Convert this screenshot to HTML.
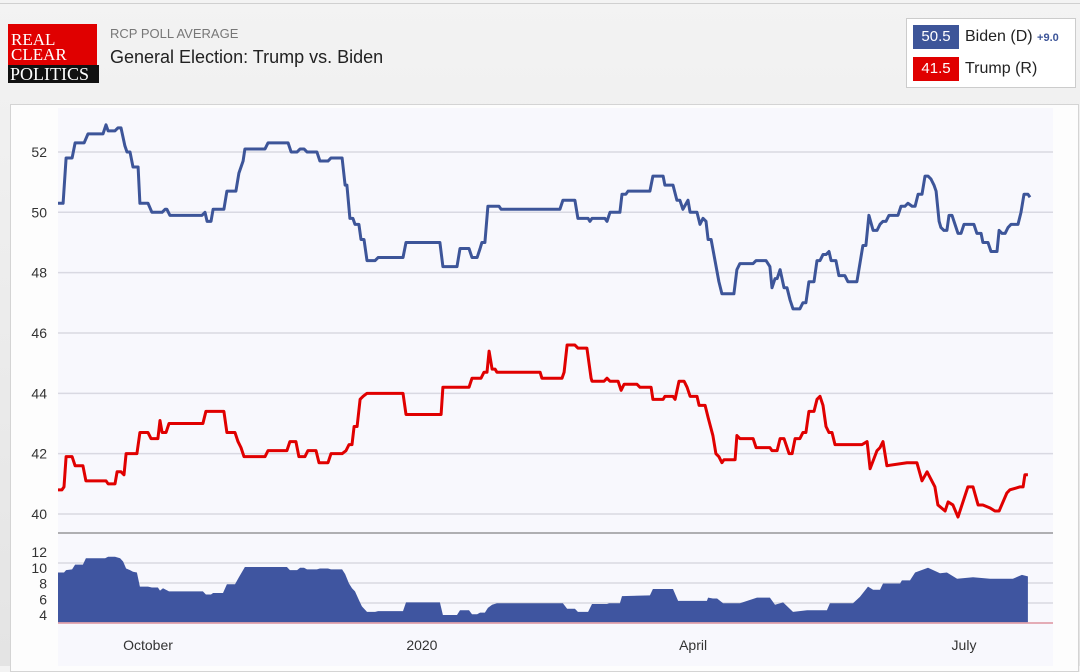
<!DOCTYPE html>
<html><head><meta charset="utf-8">
<style>
body{margin:0;width:1080px;height:666px;overflow:hidden;background:linear-gradient(#f3f3f3,#e4e4e4);font-family:"Liberation Sans",sans-serif;position:relative}
#topline{position:absolute;left:0;top:3px;width:1080px;height:1px;background:#d0d0d0}
#logo{position:absolute;left:8px;top:24px;width:89px;height:59px;background:#e00000;font-family:"Liberation Serif",serif;color:#fff;font-size:17px;line-height:15px}
#logo .b{position:absolute;left:0;bottom:0;width:89px;height:18px;background:#111;font-size:18px;line-height:18px}
#sub{position:absolute;left:110px;top:26px;font-size:13px;color:#777}
#title{position:absolute;left:110px;top:47px;font-size:18px;color:#222}
#legend{position:absolute;left:906px;top:18px;width:168px;height:68px;background:#fff;border:1px solid #ccc}
.lr{position:absolute;left:6px;font-size:16px;color:#222;white-space:nowrap}
.bx{display:inline-block;width:46px;height:24px;line-height:24px;color:#fff;text-align:center;font-size:15px;margin-right:6px}
#panel{position:absolute;left:10px;top:104px;width:1067px;height:566px;background:#fdfdfd;border:1px solid #d4d4d4}
svg{position:absolute;left:0;top:0}
</style></head><body>
<div id="topline"></div>
<div id="logo"><div style="padding:8px 0 0 3px">REAL<br>CLEAR</div><div class="b" style="padding-left:2px">POLITICS</div></div>
<div id="sub">RCP POLL AVERAGE</div>
<div id="title">General Election: Trump vs. Biden</div>
<div id="legend">
 <div class="lr" style="top:6px"><span class="bx" style="background:#3d5599">50.5</span>Biden (D) <span style="font-size:11px;color:#3d5599;font-weight:bold">+9.0</span></div>
 <div class="lr" style="top:38px"><span class="bx" style="background:#e00000">41.5</span>Trump (R)</div>
</div>
<div id="panel"></div>
<svg id="chart" width="1080" height="666"></svg>
<script>
const bidenDays=[0,1.7,2.7,4.7,5.7,8.7,10,15,16,16.7,19,20,21,22.3,23,24,25,26.7,27.3,30,31.3,34.7,35.7,36.3,37.3,48,49,49.7,51,51.7,55.3,56.3,59.3,60.3,61.7,62.3,69,70,76.7,77.7,79.7,80.7,82,83,86.3,87.3,90,91,94.7,95.7,96.3,97.3,98.3,99,100.3,101,102,103,105.7,106.7,115,116,127.3,128.3,133,134,137,138,139.7,140.7,141.3,142.3,143.3,147,147.7,167.3,168.3,172.3,173.3,176.7,177.3,178,182.3,183,184,187.3,188,189.3,190,197.3,198.3,201.7,202.3,205,206.3,207.3,208.3,210,210.7,213,214,215,216,216.7,217.7,219,220.3,221.3,225.3,226.3,227.3,231.7,232.7,236,237.3,238,239,239.7,240.7,242,243,244,245,247.3,248.3,249.3,250.3,252,253,254,255,256,257,257.7,259.3,260.3,262.3,263.3,266.3,267.3,268.3,269.3,270.3,271.7,273,274,275,276,277,280,281,282.3,283.3,284.7,285.7,286.7,288,289,290,291,292,292.7,293.7,294.3,295.3,296.3,297,298,299,300,301,302,305.3,306.3,307.7,308.3,310,311,313,313.7,314.7,315.7,316.7,317.7,320,321,322,323.3,324];
const bidenVals=[50.3,50.3,51.8,51.8,52.3,52.3,52.6,52.6,52.9,52.7,52.7,52.8,52.8,52.2,52.0,52.0,51.5,51.5,50.3,50.3,50.0,50.0,50.1,50.1,49.9,49.9,50.0,49.7,49.7,50.1,50.1,50.7,50.7,51.3,51.7,52.1,52.1,52.3,52.3,52.0,52.0,52.1,52.1,52.0,52.0,51.7,51.7,51.8,51.8,50.9,50.9,49.8,49.8,49.6,49.6,49.1,49.1,48.4,48.4,48.5,48.5,49.0,49.0,48.2,48.2,48.8,48.8,48.5,48.5,48.8,49.0,49.0,50.2,50.2,50.1,50.1,50.4,50.4,49.8,49.8,49.7,49.8,49.8,49.7,50.0,50.0,50.6,50.6,50.7,50.7,51.2,51.2,50.9,50.9,50.4,50.4,50.1,50.4,50.0,50.0,49.6,49.8,49.7,49.1,49.1,48.4,47.7,47.3,47.3,48.1,48.3,48.3,48.4,48.4,48.2,47.5,47.8,47.8,48.1,47.5,47.5,47.1,46.8,46.8,47.0,47.0,47.7,47.7,48.4,48.4,48.6,48.6,48.7,48.4,48.4,47.9,47.9,47.7,47.7,48.3,48.9,48.9,49.9,49.4,49.4,49.6,49.7,49.7,49.9,49.9,50.2,50.2,50.3,50.2,50.2,50.6,50.6,51.2,51.2,51.1,50.9,50.7,49.7,49.5,49.4,49.4,49.9,49.9,49.6,49.3,49.3,49.6,49.6,49.3,49.3,49.0,49.0,48.7,48.7,49.4,49.3,49.3,49.5,49.6,49.6,50.0,50.6,50.6,50.5];
const trumpDays=[0,1.3,2,2.7,4.7,5.7,8.3,9.3,16,16.7,19,19.7,21,22,22.7,26.3,27.3,30,31,33.3,34,34.7,36,37,48.3,49.3,55.3,56.3,59,60,61,62,69,70,76.3,77.3,79.3,80.3,82.3,83.3,86,87,90,91,94.7,96,97,98,98.7,99.7,100.7,101.7,103,115,116,127.7,128.3,137,138,141,142,143,143.7,144.7,145.7,146.3,160.7,161.3,168,168.7,169.7,172.3,173.3,176.3,177.7,178,182,183,184,186.7,187.7,188.7,193,194,197.7,198.3,201.7,202.3,205,205.7,207,208.7,209.7,210.7,213,213.7,215.7,216.7,218.3,219.3,220.3,221.3,222,225.7,226.3,227.3,231.7,232.7,237.3,238,239.7,240.7,242,243.7,244.7,245.7,247.3,248.3,249.3,250.3,252,253,254,255,256,257,258,259,267.3,268,269.7,270.7,273,274,275,276.3,283,286.3,288,289.7,292.3,293.3,295.7,296.7,298.3,300,303.3,305,306.7,308.3,310.7,312.3,313.7,316.3,317.3,320.7,321.7,322.3,323.3];
const trumpVals=[40.8,40.8,40.9,41.9,41.9,41.6,41.6,41.1,41.1,41.0,41.0,41.4,41.4,41.3,42.0,42.0,42.7,42.7,42.5,42.5,43.1,42.7,42.7,43.0,43.0,43.4,43.4,42.7,42.7,42.4,42.2,41.9,41.9,42.1,42.1,42.4,42.4,41.9,41.9,42.1,42.1,41.7,41.7,42.0,42.0,42.1,42.3,42.3,42.9,42.9,43.8,43.9,44.0,44.0,43.3,43.3,44.2,44.2,44.5,44.5,44.7,44.7,45.4,44.8,44.8,44.7,44.7,44.5,44.5,44.7,45.6,45.6,45.5,45.5,44.5,44.4,44.4,44.5,44.4,44.4,44.1,44.3,44.3,44.2,44.2,43.8,43.8,43.9,43.9,43.8,44.4,44.4,44.2,43.9,43.9,43.6,43.6,43.2,42.6,42.0,41.9,41.7,41.8,41.8,42.6,42.5,42.5,42.2,42.2,42.1,42.1,42.5,42.5,42.0,42.0,42.5,42.5,42.7,42.7,43.4,43.4,43.8,43.9,43.6,42.9,42.7,42.7,42.3,42.3,42.3,42.4,41.5,42.1,42.2,42.4,41.6,41.7,41.7,41.1,41.4,40.9,40.3,40.1,40.4,40.3,39.9,40.9,40.9,40.3,40.3,40.2,40.1,40.1,40.7,40.8,40.9,40.9,41.3,41.3,41.5];
const spreadDays=[0,2,2.7,4.7,5.7,8.3,9.3,15.7,16.7,19,20.7,21.7,22.7,24,25,26.3,27.3,30,31.3,33.3,34,35,37,48.3,49.3,51,51.7,55,56.3,59,60.3,62.3,76.3,77.3,79.7,80.7,82,83,86.3,87.3,90,91,94.7,95.7,97,98,99,100.3,101.3,103,105.7,106.7,115,116,127.3,128.3,133,134,137,138,139.7,140.7,142.3,143.3,144.7,146.3,168.3,169.7,172.3,173.3,176.7,178,183,183.7,187.3,188,197.3,198.3,205,206.7,216.3,216.7,218.3,219.7,221.7,227.3,233,237.3,239,241.7,245,249.7,256.3,257.3,265,267.3,270,271.7,274,275,280.7,281.3,284,285.7,290,294,296.3,299.7,305,310.7,318.3,321.3,323.3];
const spreadVals=[9.4,9.4,9.7,9.8,10.4,10.4,11.2,11.2,11.4,11.4,11.2,10.8,9.9,9.7,9.5,9.4,7.6,7.6,7.5,7.5,7.1,7.4,7.0,7.0,6.6,6.6,6.8,6.8,7.9,7.9,8.8,10.1,10.1,9.7,9.7,10.0,10.0,9.8,9.8,9.9,9.9,9.8,9.8,9.2,8.0,7.4,7.0,5.9,5.1,4.4,4.4,4.5,4.5,5.6,5.6,4.0,4.0,4.6,4.6,4.1,4.1,4.3,4.3,4.9,5.3,5.5,5.5,4.8,4.8,4.4,4.4,5.4,5.4,5.5,5.5,6.4,6.5,7.3,7.3,5.8,5.8,6.2,6.1,6.1,5.5,5.5,6.2,6.2,5.3,5.6,4.4,4.6,4.6,5.5,5.5,6.3,7.6,7.2,7.2,8.0,8.0,8.4,8.4,9.4,10.0,9.3,9.4,8.6,8.8,8.6,8.6,9.1,8.9];
const yTicks=[40,42,44,46,48,50,52];
const spreadTicks=[4,6,8,10,12];
const xTickDays=[30,121.3,211.7,302];
const xTickLabels=["October","2020","April","July"];

const NS="http://www.w3.org/2000/svg";
const svg=document.getElementById('chart');
const X0=58,X1=1053;
const x=d=>X0+d*3;
const y=v=>514-(v-40)*30.17;
const ys=v=>615-(v-4)*7.875;
function mk(tag,attrs,parent){const e=document.createElementNS(NS,tag);for(const k in attrs)e.setAttribute(k,attrs[k]);(parent||svg).appendChild(e);return e;}

const bg=mk('rect',{x:X0,y:108,width:X1-X0,height:560,fill:'#f8f8fd'});



yTicks.forEach(t=>{
  const g=mk('line',{x1:X0,x2:X1,y1:y(t),y2:y(t),stroke:'#d9d9e2','stroke-width':1.5});
  
  
  const l=mk('text',{x:47,y:y(t)+5,'text-anchor':'end','font-size':14,fill:'#333','font-family':'Liberation Sans, sans-serif'});
  l.textContent=t;
  
  
});
[563,583,603].forEach(gy=>{
  const g=mk('line',{x1:X0,x2:X1,y1:gy,y2:gy,stroke:'#d9d9e2','stroke-width':1.5});
  
  
});
spreadTicks.forEach(t=>{
  const l=mk('text',{x:47,y:ys(t)+5,'text-anchor':'end','font-size':14,fill:'#333','font-family':'Liberation Sans, sans-serif'});
  l.textContent=t;
  
  
});
const sep=mk('line',{x1:X0,x2:X1,y1:533,y2:533,stroke:'#666','stroke-width':1});



let ad='M'+x(spreadDays[0])+','+ys(3.1);
spreadDays.forEach((d,i)=>{ad+=' L'+x(d)+','+ys(spreadVals[i]);});
ad+=' L'+x(spreadDays[spreadDays.length-1])+','+ys(3.1)+' Z';
const area=mk('path',{d:ad,fill:'#3f55a0'});


const base=mk('line',{x1:X0,x2:X1,y1:623,y2:623,stroke:'#d06070','stroke-width':1});



function line(days,vals,color,name){
  const p=days.map((d,i)=>x(d)+','+y(vals[i])).join(' ');
  const e=mk('polyline',{points:p,fill:'none',stroke:color,'stroke-width':3,'stroke-linejoin':'round'});
  
  
}
line(bidenDays,bidenVals,'#3d5599','biden-line');
line(trumpDays,trumpVals,'#e00000','trump-line');

xTickDays.forEach((d,i)=>{
  const l=mk('text',{x:x(d),y:650,'text-anchor':'middle','font-size':14,fill:'#333','font-family':'Liberation Sans, sans-serif'});
  l.textContent=xTickLabels[i];
  
  
});
</script>
</body></html>
